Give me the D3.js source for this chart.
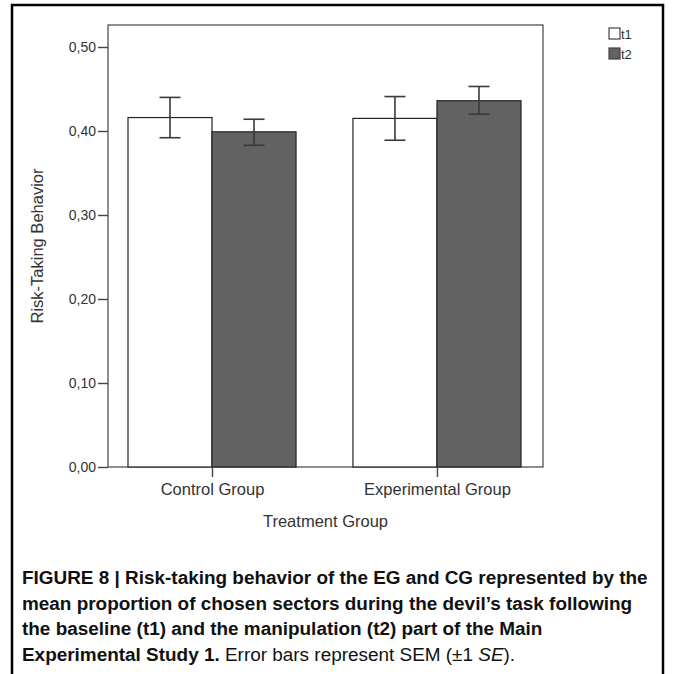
<!DOCTYPE html>
<html>
<head>
<meta charset="utf-8">
<script src="https://cdn.jsdelivr.net/npm/d3@7"></script>
<style>
  body { margin: 0; background: #fff; }
  svg { display: block; }
</style>
</head>
<body>
<div id="chart"></div>
<script>
// values
var groups = ["Control Group", "Experimental Group"];
var times = ["t1", "t2"];
var meansT1 = [0.416, 0.415];
var meansT2 = [0.399, 0.436];
var lowT1 = [0.392, 0.389];
var highT1 = [0.440, 0.441];
var lowT2 = [0.383, 0.420];
var highT2 = [0.414, 0.453];
var yTicks = [0, 0.1, 0.2, 0.3, 0.4, 0.5];
var captionLines = [
  [{t: "FIGURE 8 | Risk-taking behavior of the EG and CG represented by the", w: "bold"}],
  [{t: "mean proportion of chosen sectors during the devil\u2019s task following", w: "bold"}],
  [{t: "the baseline (t1) and the manipulation (t2) part of the Main", w: "bold"}],
  [{t: "Experimental Study 1.", w: "bold"}, {t: " Error bars represent SEM (\u00b11 ", w: "normal"},
   {t: "SE", w: "normal", s: "italic"}, {t: ").", w: "normal"}]
];

var width = 673, height = 674;
var plot = {left: 108, right: 543, top: 25, bottom: 467};
var darkFill = "#626262";
var fills = ["#ffffff", darkFill];

var rows = groups.map(function(g, i) {
  return {
    group: g,
    bars: [
      {time: "t1", mean: meansT1[i], lo: lowT1[i], hi: highT1[i]},
      {time: "t2", mean: meansT2[i], lo: lowT2[i], hi: highT2[i]}
    ]
  };
});

var svg = d3.select("#chart").append("svg")
    .attr("width", width)
    .attr("height", height)
    .style("font-family", "Arial, 'Liberation Sans', sans-serif")

// outer figure frame
svg.append("rect")
    .attr("x", 12).attr("y", 5)
    .attr("width", 651).attr("height", 700)
    .attr("fill", "none")
    .attr("stroke", "#000")
    .attr("stroke-width", 2.5)

var y = d3.scaleLinear()
    .domain([0, (plot.bottom - plot.top) / 840])
    .range([plot.bottom, plot.top]);

var x0 = d3.scaleBand()
    .domain(groups)
    .range([128, 521])
    .paddingInner(0.253);

var x1 = d3.scaleBand()
    .domain(times)
    .range([0, x0.bandwidth()]);

var color = d3.scaleOrdinal().domain(times).range(fills);

// plot box
svg.append("rect")
    .attr("x", plot.left).attr("y", plot.top)
    .attr("width", plot.right - plot.left)
    .attr("height", plot.bottom - plot.top)
    .attr("fill", "none")
    .attr("stroke", "#444")
    .attr("stroke-width", 1.2)

// bars
var g = svg.selectAll(".grp")
    .data(rows)
    .enter().append("g")
    .attr("class", "grp")
    .attr("transform", function(d) { return "translate(" + x0(d.group) + ",0)"; })

g.selectAll("rect")
    .data(function(d) { return d.bars; })
    .enter().append("rect")
    .attr("x", d => x1(d.time))
    .attr("y", d => y(d.mean))
    .attr("width", x1.bandwidth())
    .attr("height", d => y(0) - y(d.mean))
    .attr("fill", d => color(d.time))
    .attr("stroke", "#222")
    .attr("stroke-width", 1.2)

// error bars
var err = g.selectAll(".err")
    .data(function(d) { return d.bars; })
    .enter().append("g")
    .attr("class", "err")
    .attr("transform", d => "translate(" + (x1(d.time) + x1.bandwidth() / 2) + ",0)")
    .attr("stroke", "#3a3a3a")
    .attr("stroke-width", 1.6)

err.append("line")
    .attr("y1", d => y(d.lo)).attr("y2", d => y(d.hi))
err.append("line")
    .attr("x1", -10.5).attr("x2", 10.5)
    .attr("y1", d => y(d.hi)).attr("y2", d => y(d.hi))
err.append("line")
    .attr("x1", -10.5).attr("x2", 10.5)
    .attr("y1", d => y(d.lo)).attr("y2", d => y(d.lo))

// y axis
var yAxis = svg.append("g")
    .attr("transform", "translate(" + plot.left + ",0)")
    .call(d3.axisLeft(y)
        .tickValues(yTicks)
        .tickSize(10)
        .tickPadding(2)
        .tickFormat(d => d3.format(".2f")(d).replace(".", ",")))
yAxis.select(".domain").remove()
yAxis.selectAll("line").attr("stroke", "#444").attr("stroke-width", 1.4)
yAxis.selectAll("text")
    .attr("font-size", 14)
    .attr("font-family", "Arial, 'Liberation Sans', sans-serif")
    .attr("fill", "#333")

// x axis
var xAxis = svg.append("g")
    .attr("transform", "translate(0," + plot.bottom + ")")
    .call(d3.axisBottom(d3.scalePoint()
            .domain(groups)
            .range([x0(groups[0]) + x0.bandwidth() / 2, x0(groups[1]) + x0.bandwidth() / 2]))
        .tickSize(10)
        .tickPadding(6))
xAxis.select(".domain").remove()
xAxis.selectAll("line").attr("stroke", "#444").attr("stroke-width", 1.4)
xAxis.selectAll("text")
    .attr("font-size", 16.5)
    .attr("font-family", "Arial, 'Liberation Sans', sans-serif")
    .attr("fill", "#333")

svg.append("text")
    .attr("x", (plot.left + plot.right) / 2)
    .attr("y", 527)
    .attr("text-anchor", "middle")
    .attr("font-size", 16.5)
    .attr("fill", "#333")
    .text("Treatment Group")

svg.append("text")
    .attr("transform", "translate(43," + ((plot.top + plot.bottom) / 2) + ") rotate(-90)")
    .attr("text-anchor", "middle")
    .attr("font-size", 16.5)
    .attr("fill", "#333")
    .text("Risk-Taking Behavior")

// legend
var legend = svg.selectAll(".leg")
    .data(times)
    .enter().append("g")
    .attr("class", "leg")
    .attr("transform", (d, i) => "translate(609," + (28 + i * 20) + ")")
legend.append("rect")
    .attr("width", 11).attr("height", 11)
    .attr("fill", d => color(d))
    .attr("stroke", "#444")
    .attr("stroke-width", 1.2)
legend.append("text")
    .attr("x", 12).attr("y", 10.5)
    .attr("font-size", 13)
    .attr("fill", "#333")
    .text(d => d)

// caption
var cap = svg.append("g")
    .style("font-family", "'Liberation Sans', Arial, sans-serif")
    .attr("fill", "#111")
var capText = cap.selectAll("text")
    .data(captionLines)
    .enter().append("text")
    .attr("x", 22)
    .attr("y", (d, i) => 584 + i * 25.5)
    .attr("font-size", 17)
capText.selectAll("tspan")
    .data(d => d)
    .enter().append("tspan")
    .attr("font-weight", d => d.w)
    .attr("font-style", d => d.s || "normal")
    .text(d => d.t)

// fit first caption line to its width in the figure
var first = capText.node().getComputedTextLength();
var fs = 17 * 626 / first;
capText.attr("font-size", fs)
</script>
</body>
</html>
